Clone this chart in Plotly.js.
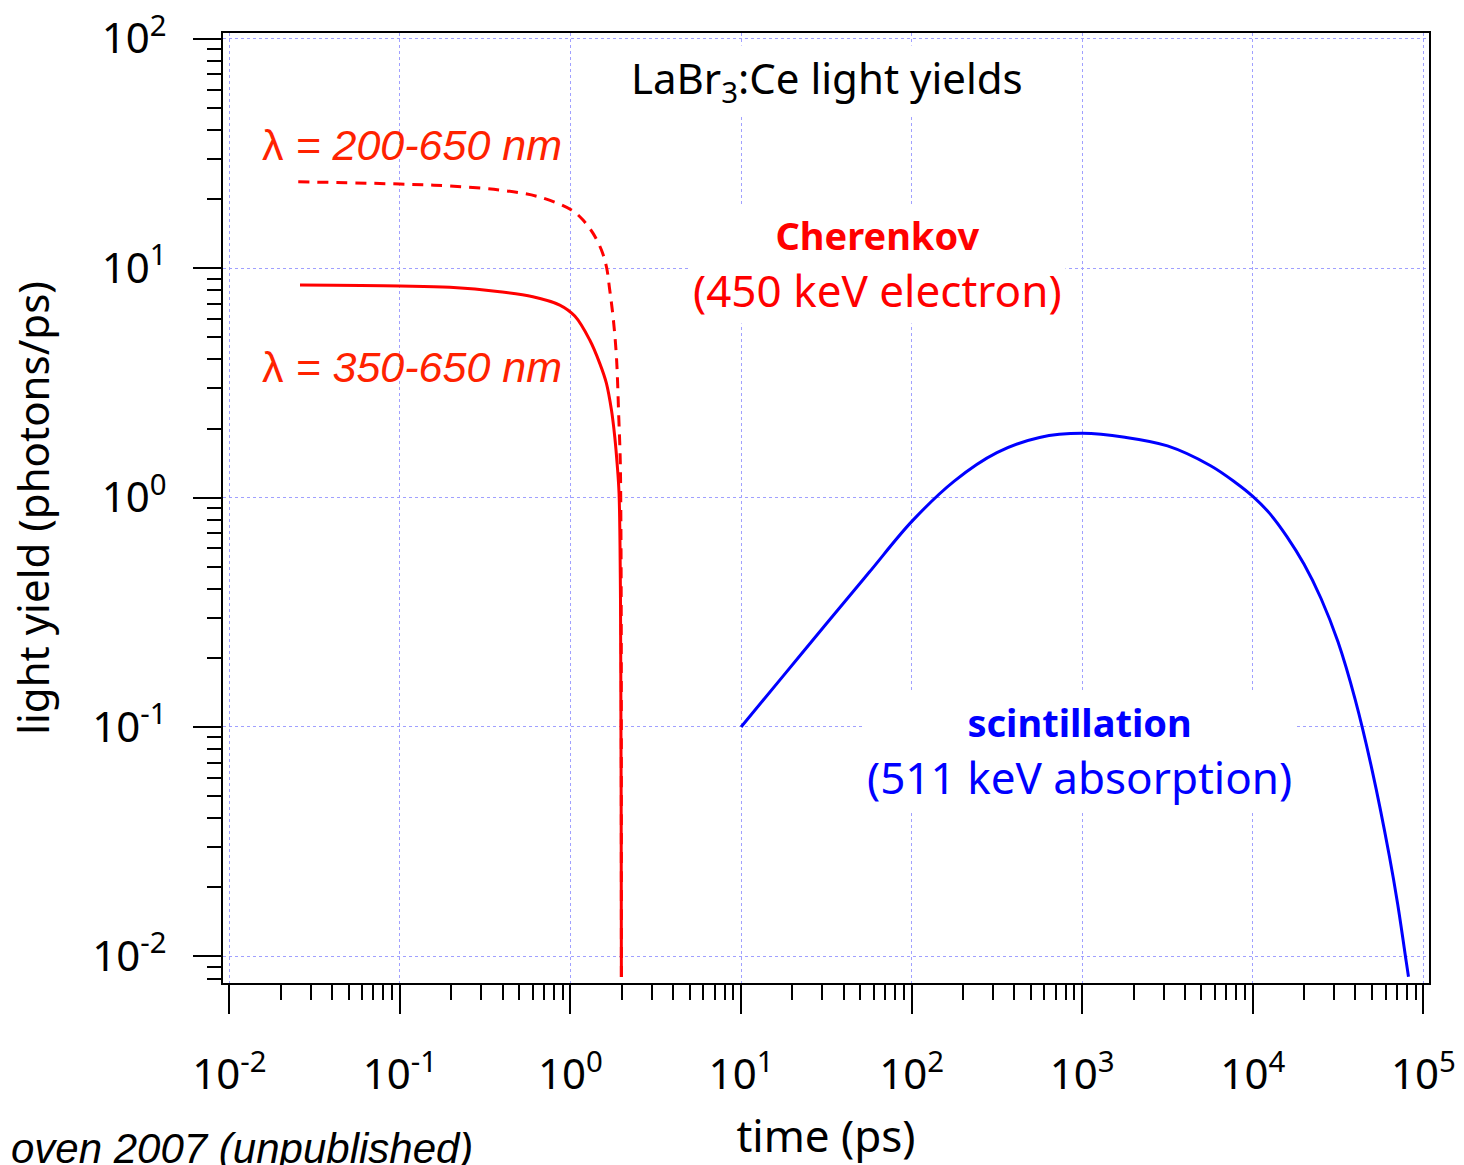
<!DOCTYPE html>
<html>
<head>
<meta charset="utf-8">
<script src="https://cdn.plot.ly/plotly-3.0.1.min.js"></script>
<style>html,body{margin:0;padding:0;background:#fff;}</style>
</head>
<body>
<div id="chart" style="width:1464px;height:1165px;"></div>
<script>
// Cherenkov, lambda = 350-650 nm (solid)
const cherSolidT = [0.02596, 0.1, 0.1963, 0.3852, 0.6013, 0.8656, 1.060, 1.297, 1.485, 1.625, 1.739, 1.818, 1.876, 1.926, 1.960, 1.972, 1.982, 1.988];
const cherSolidY = [8.44, 8.356, 8.247, 7.891, 7.506, 6.905, 6.18, 4.861, 3.846, 3.146, 2.406, 1.841, 1.413, 1.047, 0.447, 0.178, 0.0501, 0.00813];
// Cherenkov, lambda = 200-650 nm (dashed)
const cherDashT = [0.02536, 0.1, 0.1963, 0.3852, 0.6609, 1.0137, 1.185, 1.357, 1.519, 1.625, 1.699, 1.777, 1.860, 1.919, 1.958, 1.971, 1.979, 1.984, 1.988];
const cherDashY = [23.8, 23.26, 22.80, 21.90, 20.41, 17.92, 16.20, 14.18, 11.99, 10.14, 8.025, 6.14, 4.11, 2.25, 1.457, 0.975, 0.590, 0.316, 0.00813];
// Scintillation (511 keV absorption)
const scintT = [10, 17.78, 31.62, 56.23, 100, 177.8, 316.2, 562.3, 1000, 1778, 3162, 5623, 7943, 10000, 12590, 15850, 19950, 25120, 31620, 39810, 50120, 63100, 70790, 79430, 81800];
const scintY = [0.1, 0.1679, 0.2818, 0.4710, 0.7852, 1.180, 1.570, 1.828, 1.905, 1.832, 1.679, 1.380, 1.161, 1.012, 0.8511, 0.6761, 0.5129, 0.3631, 0.2344, 0.1318, 0.06457, 0.02754, 0.01679, 0.00944, 0.00815];

// Tick labels
const xTickVals = [1e-2, 1e-1, 1e0, 1e1, 1e2, 1e3, 1e4, 1e5];
const xTickText = ['10<sup>-2</sup>', '10<sup>-1</sup>', '10<sup>0</sup>', '10<sup>1</sup>', '10<sup>2</sup>', '10<sup>3</sup>', '10<sup>4</sup>', '10<sup>5</sup>'];
const yTickVals = [1e-2, 1e-1, 1e0, 1e1, 1e2];
const yTickText = ['10<sup>-2</sup>', '10<sup>-1</sup>', '10<sup>0</sup>', '10<sup>1</sup>', '10<sup>2</sup>'];

function minorVals(lo, hi) {
  const out = [];
  for (let e = lo; e <= hi; e++) {
    for (let m = 2; m <= 9; m++) out.push(m * Math.pow(10, e));
  }
  return out;
}

const FONT = 'Noto Sans, DejaVu Sans, sans-serif';
const ITAL = 'Liberation Sans, Arial, sans-serif';

const traces = [
  {x: cherDashT, y: cherDashY, type: 'scatter', mode: 'lines',
   line: {color: '#ff0000', width: 3, dash: '11px,8px', shape: 'spline', smoothing: 1}, hoverinfo: 'skip'},
  {x: cherSolidT, y: cherSolidY, type: 'scatter', mode: 'lines',
   line: {color: '#ff0000', width: 3, shape: 'spline', smoothing: 1}, hoverinfo: 'skip'},
  {x: scintT, y: scintY, type: 'scatter', mode: 'lines',
   line: {color: '#0000ff', width: 3, shape: 'spline', smoothing: 1}, hoverinfo: 'skip'}
];

const axisCommon = {
  type: 'log',
  showline: true, mirror: true, linecolor: '#000', linewidth: 2,
  ticks: 'outside', tickwidth: 2, tickcolor: '#000',
  showgrid: true, gridcolor: '#a0a0ff', gridwidth: 1, griddash: 'dot',
  zeroline: false,
  tickmode: 'array',
  tickfont: {family: FONT, size: 42, color: '#000'}
};

const layout = {
  width: 1464, height: 1165,
  margin: {l: 223, r: 35, t: 33, b: 182},
  paper_bgcolor: '#fff', plot_bgcolor: '#fff',
  showlegend: false,
  xaxis: Object.assign({}, axisCommon, {
    range: [-2.037, 5.033],
    tickvals: xTickVals, ticktext: xTickText,
    ticklen: 29, ticklabelstandoff: 25,
    minor: {tickmode: 'array', tickvals: minorVals(-2, 4), ticks: 'outside', ticklen: 15, tickwidth: 2, tickcolor: '#000', showgrid: false},
    title: {text: 'time (ps)', font: {family: FONT, size: 44, color: '#000'}, standoff: 39}
  }),
  yaxis: Object.assign({}, axisCommon, {
    range: [-2.116, 2.025],
    tickvals: yTickVals, ticktext: yTickText,
    ticklen: 28, ticklabelstandoff: 18,
    minor: {tickmode: 'array', tickvals: minorVals(-3, 1), ticks: 'outside', ticklen: 14, tickwidth: 2, tickcolor: '#000', showgrid: false},
    title: {text: 'light yield (photons/ps)', font: {family: FONT, size: 42, color: '#000'}, standoff: 30}
  }),
  annotations: [
    {xref: 'paper', yref: 'paper', x: 0.5008, y: 0.9505, xanchor: 'center', yanchor: 'middle',
     text: 'LaBr<sub>3</sub>:Ce light yields', showarrow: false,
     font: {family: FONT, size: 42, color: '#000'}, bgcolor: '#fff', borderpad: 3},
    {xref: 'paper', yref: 'paper', x: 0.543, y: 0.7568, xanchor: 'center', yanchor: 'middle',
     text: '<b><span style="font-size:38px">Cherenkov</span></b><br>(450 keV electron)', showarrow: false,
     font: {family: FONT, size: 44, color: '#ff0000'}, bgcolor: '#fff', borderpad: 3},
    {xref: 'paper', yref: 'paper', x: 0.7106, y: 0.2432, xanchor: 'center', yanchor: 'middle',
     text: '<b><span style="font-size:38px">scintillation</span></b><br>(511 keV absorption)', showarrow: false,
     font: {family: FONT, size: 44, color: '#0000ff'}, bgcolor: '#fff', borderpad: 3},
    {xref: 'paper', yref: 'paper', x: 0.1571, y: 0.8821, xanchor: 'center', yanchor: 'middle',
     text: 'λ<i> = 200-650 nm</i>', showarrow: false,
     font: {family: ITAL, size: 43, color: '#ff2200'}},
    {xref: 'paper', yref: 'paper', x: 0.1571, y: 0.6484, xanchor: 'center', yanchor: 'middle',
     text: 'λ<i> = 350-650 nm</i>', showarrow: false,
     font: {family: ITAL, size: 43, color: '#ff2200'}},
    {xref: 'paper', yref: 'paper', x: 0.209, y: -0.1737, xanchor: 'right', yanchor: 'middle',
     text: '<i>oven 2007 (unpublished)</i>', showarrow: false,
     font: {family: ITAL, size: 42, color: '#000'}}
  ]
};

Plotly.newPlot('chart', traces, layout, {staticPlot: true, displayModeBar: false});
</script>
</body>
</html>
